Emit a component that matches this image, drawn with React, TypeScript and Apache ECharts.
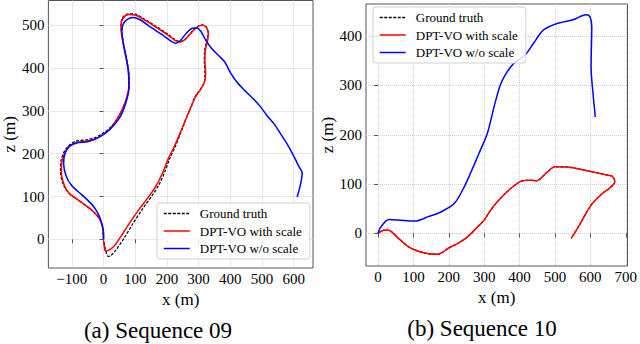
import React, { useEffect, useRef } from "react";
import * as echarts from "echarts";

const FONT = "Liberation Serif";

const seriesNames = ["Ground truth", "DPT-VO with scale", "DPT-VO w/o scale"];

const seq09XTicks = [-100, 0, 100, 200, 300, 400, 500, 600];
const seq09ZTicks = [0, 100, 200, 300, 400, 500];
const seq10XTicks = [0, 100, 200, 300, 400, 500, 600, 700];
const seq10ZTicks = [0, 100, 200, 300, 400];

// Sequence 09 trajectories [x, z]
const seq09GroundTruth: number[][] = [
  [0, 0], [-3, 25], [-11, 45], [-29, 62], [-54, 78], [-84, 94], [-110, 108], [-127, 128],
  [-136, 158], [-134, 184], [-124, 205], [-108, 220], [-88, 229], [-59, 232], [-29, 237],
  [-4, 247], [20, 260], [43, 282], [61, 307], [75, 334], [81, 360], [80, 390], [73, 420],
  [65, 450], [58, 479], [55, 501], [60, 518], [78, 527], [100, 526], [130, 514], [165, 498],
  [200, 481], [225, 467], [242, 462], [258, 468], [275, 482], [292, 495], [310, 501],
  [324, 497], [330, 481], [325, 461], [319, 440], [318, 415], [320, 390], [318, 368],
  [305, 350], [290, 335], [276, 310], [260, 280], [243, 248], [226, 216], [209, 189],
  [194, 159], [176, 129], [154, 103], [122, 70], [93, 37], [65, 3], [40, -24], [23, -38],
  [15, -40], [9, -32], [4, -15], [1, -3],
];
const seq09WithScale: number[][] = [
  [0, 0], [-2, 25], [-10, 45], [-28, 62], [-52, 77], [-82, 93], [-108, 107], [-124, 127],
  [-133, 157], [-131, 183], [-121, 203], [-106, 218], [-86, 226], [-58, 229], [-28, 234],
  [-3, 244], [20, 258], [42, 280], [60, 305], [74, 333], [80, 360], [79, 390], [72, 420],
  [64, 450], [57, 478], [55, 500], [61, 516], [79, 525], [100, 524], [130, 512], [165, 496],
  [200, 479], [225, 465], [242, 461], [258, 467], [275, 481], [292, 494], [309, 500],
  [323, 496], [331, 480], [327, 460], [321, 440], [320, 415], [322, 390], [319, 368],
  [306, 350], [291, 334], [276, 309], [259, 280], [241, 247], [222, 215], [204, 188],
  [188, 158], [168, 128], [145, 102], [112, 70], [82, 38], [55, 7], [33, -16], [15, -26],
  [6, -27], [2, -15], [0, -3],
];
const seq09WithoutScale: number[][] = [
  [0, 0], [0, 15], [-5, 35], [-13, 53], [-25, 70], [-40, 84], [-70, 105], [-100, 125],
  [-118, 148], [-126, 178], [-122, 200], [-110, 216], [-85, 225], [-50, 228], [-15, 238],
  [20, 257], [50, 283], [70, 318], [80, 355], [78, 395], [70, 430], [62, 460], [58, 485],
  [62, 503], [75, 514], [92, 518], [115, 513], [150, 495], [185, 478], [215, 462],
  [228, 458], [242, 464], [262, 482], [280, 493], [295, 494], [308, 485], [322, 466],
  [340, 447], [362, 430], [382, 415], [400, 390], [420, 368], [445, 348], [470, 330],
  [495, 310], [515, 290], [540, 268], [560, 245], [580, 222], [600, 195], [615, 172],
  [627, 155], [622, 130], [616, 112], [611, 99],
];

// Sequence 10 trajectories [x, z]
const seq10GroundTruth: number[][] = [
  [0, 0], [10, 5], [21, 7], [35, 5], [58, -10], [86, -27], [114, -36], [142, -41],
  [170, -42], [185, -37], [198, -30], [226, -20], [253, -7], [281, 13], [300, 27],
  [318, 47], [337, 64], [370, 88], [402, 105], [430, 108], [448, 107], [476, 123],
  [500, 135], [541, 134], [597, 126], [650, 118], [662, 116], [669, 105], [653, 91],
  [634, 81], [606, 61], [588, 41], [569, 17], [546, -10],
];
const seq10WithScale: number[][] = [
  [0, 0], [10, 5], [21, 7], [35, 5], [58, -10], [86, -27], [114, -36], [142, -41],
  [170, -42], [185, -37], [198, -30], [226, -20], [253, -7], [281, 13], [300, 27],
  [318, 47], [337, 64], [370, 88], [402, 105], [430, 108], [448, 107], [476, 123],
  [500, 135], [541, 134], [597, 126], [650, 118], [662, 116], [669, 105], [653, 91],
  [634, 81], [606, 61], [588, 41], [569, 17], [546, -10],
];
const seq10WithoutScale: number[][] = [
  [0, 0], [5, 10], [12, 17], [22, 25], [31, 28], [58, 27], [105, 25], [142, 34],
  [179, 44], [216, 61], [244, 95], [263, 125], [284, 160], [309, 203],
  [328, 257], [345, 300], [360, 322], [384, 345], [416, 362], [439, 385], [467, 412],
  [504, 425], [551, 433], [588, 443], [599, 439], [604, 419], [603, 380], [602, 338],
  [608, 280], [614, 236],
];

const FRAME = "#555555";

function xAxisFor(gridIndex: number, min: number, max: number, ticks: number[], gap: number) {
  return {
    type: "value",
    gridIndex,
    min,
    max,
    name: "x (m)",
    nameLocation: "middle",
    nameGap: gap,
    nameTextStyle: { fontFamily: FONT, fontSize: 17, color: "#000" },
    axisLine: { show: false },
    axisTick: { show: true, length: 4, customValues: ticks, lineStyle: { color: FRAME } },
    axisLabel: {
      customValues: ticks,
      fontFamily: FONT,
      fontSize: 15,
      color: "#000",
      margin: 3,
      formatter: (v: number) => (v < 0 ? "\u2212" + Math.abs(v) : String(v)),
    },
    splitLine: { show: true, lineStyle: { color: "#cfcfcf", type: "dotted", width: 1 } },
  };
}

function yAxisFor(gridIndex: number, min: number, max: number, ticks: number[], gap: number) {
  return {
    type: "value",
    gridIndex,
    min,
    max,
    name: "z (m)",
    nameLocation: "middle",
    nameGap: gap,
    nameTextStyle: { fontFamily: FONT, fontSize: 17, color: "#000" },
    axisLine: { show: false },
    axisTick: { show: true, length: 4, customValues: ticks, lineStyle: { color: FRAME } },
    axisLabel: {
      customValues: ticks,
      fontFamily: FONT,
      fontSize: 15,
      color: "#000",
      margin: 4,
    },
    splitLine: { show: true, lineStyle: { color: "#cfcfcf", type: "dotted", width: 1 } },
  };
}

function lineSeries(name: string, data: number[][], idx: number, color: string, dashed: boolean) {
  return {
    type: "line",
    name,
    data,
    xAxisIndex: idx,
    yAxisIndex: idx,
    smooth: 0.3,
    showSymbol: false,
    symbol: "none",
    lineStyle: dashed
      ? { color, width: 1.2, type: [3, 1.5] }
      : { color, width: 1.5 },
    itemStyle: { color },
  };
}

function legendFor(left: number, top: number) {
  return {
    left,
    top,
    orient: "vertical",
    itemGap: 4.5,
    itemWidth: 26,
    itemHeight: 14,
    padding: [4, 8, 4, 6],
    backgroundColor: "rgba(255,255,255,0.85)",
    borderColor: "#d0d0d0",
    borderWidth: 1,
    borderRadius: 3,
    itemStyle: { opacity: 0 },
    lineStyle: { width: 1.5 },
    textStyle: { fontFamily: FONT, fontSize: 13, color: "#000", padding: [0, 0, 0, 5] },
    data: seriesNames,
  };
}

export default function App() {
  const ref = useRef<HTMLDivElement>(null);
  useEffect(() => {
    if (!ref.current) return;
    const chart = echarts.init(ref.current, undefined, { renderer: "svg" });
    chart.setOption({
      animation: false,
      backgroundColor: "#fff",
      textStyle: { fontFamily: FONT },
      grid: [
        { left: 43, top: 0.5, width: 270, height: 267.5, show: true, borderColor: FRAME, borderWidth: 1, backgroundColor: "transparent" },
        { left: 366, top: 4, width: 264, height: 262, show: true, borderColor: FRAME, borderWidth: 1, backgroundColor: "transparent" },
      ],
      xAxis: [
        xAxisFor(0, -174, 661, seq09XTicks, 18),
        xAxisFor(1, -34, 705, seq10XTicks, 19),
      ],
      yAxis: [
        yAxisFor(0, -67, 558, seq09ZTicks, 27),
        yAxisFor(1, -66, 465, seq10ZTicks, 26),
      ],
      legend: [legendFor(157, 203), legendFor(373, 7)],
      series: [
        lineSeries(seriesNames[0], seq09GroundTruth, 0, "#000000", true),
        lineSeries(seriesNames[1], seq09WithScale, 0, "#ff0000", false),
        lineSeries(seriesNames[2], seq09WithoutScale, 0, "#0000ff", false),
        lineSeries(seriesNames[0], seq10GroundTruth, 1, "#000000", true),
        lineSeries(seriesNames[1], seq10WithScale, 1, "#ff0000", false),
        lineSeries(seriesNames[2], seq10WithoutScale, 1, "#0000ff", false),
      ],
      graphic: [
        {
          type: "text",
          x: 158,
          y: 330,
          style: { text: "(a) Sequence 09", fontFamily: FONT, fontSize: 23, fill: "#000", align: "center", verticalAlign: "middle" },
        },
        {
          type: "text",
          x: 482,
          y: 328,
          style: { text: "(b) Sequence 10", fontFamily: FONT, fontSize: 23, fill: "#000", align: "center", verticalAlign: "middle" },
        },
      ],
    });
    return () => chart.dispose();
  }, []);
  return (
    <div
      ref={ref}
      style={{ position: "fixed", left: 0, top: 0, width: 640, height: 344, background: "#fff" }}
    />
  );
}
